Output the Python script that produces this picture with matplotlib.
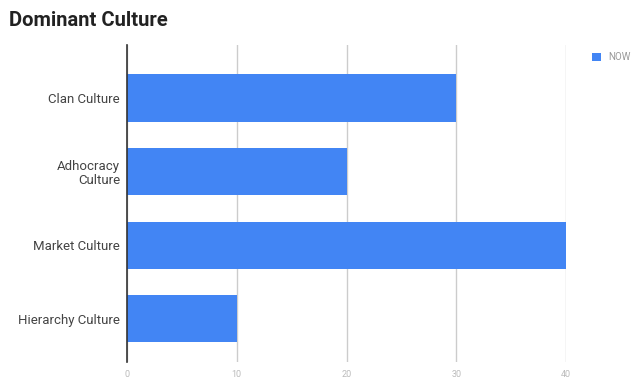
import matplotlib
matplotlib.use("Agg")
import matplotlib.pyplot as plt
from matplotlib.patches import Patch

categories = ["Clan Culture", "Adhocracy\nCulture", "Market Culture", "Hierarchy Culture"]
values_now = [30, 20, 40, 10]
x_ticks = [0, 10, 20, 30, 40]
series_name = "NOW"

plt.rcParams['font.family'] = ['Roboto', 'DejaVu Sans']

W, H = 638, 385
fig = plt.figure(figsize=(W / 100, H / 100), dpi=100)
left, right, top, bottom = 127, 566, 45, 362
ax = fig.add_axes([left / W, 1 - bottom / H, (right - left) / W, (bottom - top) / H])

bar_color = "#4285F4"
ypos = list(range(len(categories)))
ax.barh(ypos, values_now, height=0.64, color=bar_color, zorder=3)
ax.set_ylim(3.585, -0.72)
ax.set_xlim(0, 40)
ax.set_xticks(x_ticks)
ax.set_xticklabels([str(t) for t in x_ticks], fontsize=6.5, color="#bbbbbb")
ax.set_yticks(ypos)
ax.set_yticklabels(categories, fontsize=9.5, color="#444444", ha="right",
                   multialignment="right", linespacing=1.1)
ax.tick_params(axis="both", length=0)
ax.tick_params(axis="y", pad=5)
ax.tick_params(axis="x", pad=6)
ax.grid(axis="x", color="#cccccc", linewidth=1, zorder=0)
for s in ["top", "right", "bottom"]:
    ax.spines[s].set_visible(False)
ax.spines["left"].set_color("#333333")
ax.spines["left"].set_linewidth(1.2)
ax.spines["left"].set_zorder(4)

fig.text(9 / W, 1 - 21 / H, "Dominant Culture", fontsize=14.5, fontweight="bold",
         color="#222222", va="center", ha="left")

handles = [Patch(facecolor=bar_color, edgecolor="none", label=series_name)]
fig.legend(handles=handles, loc="center left", bbox_to_anchor=(588 / W, 1 - 57 / H),
           frameon=False, fontsize=7, labelcolor="#999999", handlelength=0.9,
           handleheight=0.9, handletextpad=0.8, borderaxespad=0)

fig.savefig("out.png", dpi=100, facecolor="white")
